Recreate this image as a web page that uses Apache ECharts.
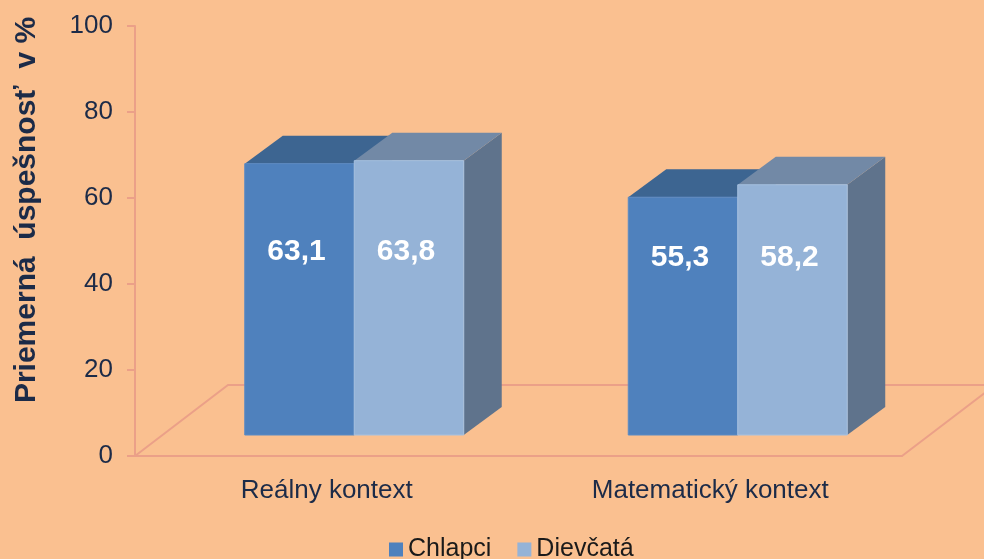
<!DOCTYPE html>
<html>
<head>
<meta charset="utf-8" />
<title>uspesnost</title>
<script src="https://cdn.jsdelivr.net/npm/echarts@6/dist/echarts.min.js"></script>
<style>
  html, body { margin: 0; padding: 0; background: #FAC090; }
  #main { width: 984px; height: 559px; }
</style>
</head>
<body>
<div id="main"></div>
<script type="text/javascript">
  // data
  var categories = ['Reálny kontext', 'Matematický kontext'];
  var chlapci = [63.1, 55.3];
  var dievcata = [63.8, 58.2];
  var yTicks = [0, 20, 40, 60, 80, 100];

  var navy = '#1C2B48';
  var lineCol = '#EBA088';
  var font = "'Liberation Sans', Arial, sans-serif";

  // fake 3d: floor depth, bar front offset and bar depth (px)
  var FLOOR = [93, -71];
  var OFF = [27.5, -21];
  var DEPTH = [38, -28];
  var BAR_FRAC = 0.2855;
  var labelAt = [43, 41.6];   // level of the value text on the front face

  var faces = [
    { front: '#4F81BD', top: '#3D6591', side: '#3A5F8A', edge: '#5A8AC4' },
    { front: '#95B3D7', top: '#7289A6', side: '#5F738C', edge: '#A6C0DF' }
  ];

  function barRender(s) {
    return function (params, api) {
      var c = api.value(0), v = api.value(1);
      var base = api.coord([c, 0]);
      var top = api.coord([c, v]);
      var bw = api.size([1, 0])[0] * BAR_FRAC;
      var x0 = base[0] + OFF[0] - bw + s * bw;
      var x1 = x0 + bw;
      var yb = base[1] + OFF[1];
      var yt = top[1] + OFF[1];
      var f = faces[s];
      var ly = api.coord([c, labelAt[c]])[1] + OFF[1];
      return {
        type: 'group',
        children: [
          { type: 'polygon', shape: { points: [[x1, yt], [x1 + DEPTH[0], yt + DEPTH[1]], [x1 + DEPTH[0], yb + DEPTH[1]], [x1, yb]] },
            style: { fill: f.side } },
          { type: 'polygon', shape: { points: [[x0, yt], [x0 + DEPTH[0], yt + DEPTH[1]], [x1 + DEPTH[0], yt + DEPTH[1]], [x1, yt]] },
            style: { fill: f.top } },
          { type: 'rect', shape: { x: x0, y: yt, width: bw, height: yb - yt },
            style: { fill: f.front, stroke: f.edge, lineWidth: 1 } },
          { type: 'text', style: { text: String(v).replace('.', ','), x: (x0 + x1) / 2 - 3, y: ly + 2,
              fill: '#fff', fontSize: 30, fontWeight: 'bold', fontFamily: font,
              align: 'center', verticalAlign: 'middle' } }
        ]
      };
    };
  }

  function floorRender(params, api) {
    var cs = params.coordSys;
    var xl = cs.x, xr = cs.x + cs.width, yf = cs.y + cs.height;
    return {
      type: 'polyline',
      shape: { points: [[xl, yf], [xl + FLOOR[0], yf + FLOOR[1]], [xr + FLOOR[0], yf + FLOOR[1]], [xr, yf]] },
      style: { stroke: lineCol, lineWidth: 2, fill: null },
      silent: true
    };
  }

  var myChart = echarts.init(document.getElementById('main'));

  myChart.setOption({
    backgroundColor: '#FAC090',
    animation: false,
    grid: { left: 135, right: 82, top: 26, bottom: 103 },
    legend: {
      left: 384, top: 532,
      icon: 'rect', itemWidth: 14, itemHeight: 14, itemGap: 26, itemStyle: { borderWidth: 0 },
      textStyle: { color: '#1A1A1A', fontSize: 25, fontFamily: font },
      data: ['Chlapci', 'Dievčatá']
    },
    graphic: [{
      type: 'text', x: 27, y: 210, rotation: Math.PI / 2,
      style: { text: 'Priemerná  úspešnosť  v %', fill: navy, fontSize: 30, fontWeight: 'bold',
        fontFamily: font, align: 'center', verticalAlign: 'middle' }
    }],
    xAxis: {
      type: 'category',
      data: categories,
      axisLine: { lineStyle: { color: lineCol, width: 2 } },
      axisTick: { show: false },
      axisLabel: { color: navy, fontSize: 26, fontFamily: font, margin: 22 }
    },
    yAxis: {
      type: 'value',
      min: yTicks[0], max: yTicks[yTicks.length - 1], interval: 20,
      axisLine: { show: true, lineStyle: { color: lineCol, width: 2 } },
      axisTick: { show: true, length: 8, lineStyle: { color: lineCol, width: 2 } },
      axisLabel: { color: navy, fontSize: 26, fontFamily: font, margin: 22 },
      splitLine: { show: false }
    },
    series: [
      { name: 'floor', type: 'custom', renderItem: floorRender, data: [[0, 0]], z: 1, silent: true },
      { name: 'Chlapci', type: 'custom', renderItem: barRender(0), itemStyle: { color: '#4F81BD' },
        data: chlapci.map(function (v, i) { return [i, v]; }), z: 2 },
      { name: 'Dievčatá', type: 'custom', renderItem: barRender(1), itemStyle: { color: '#95B3D7' },
        data: dievcata.map(function (v, i) { return [i, v]; }), z: 3 }
    ]
  });
</script>
</body>
</html>
